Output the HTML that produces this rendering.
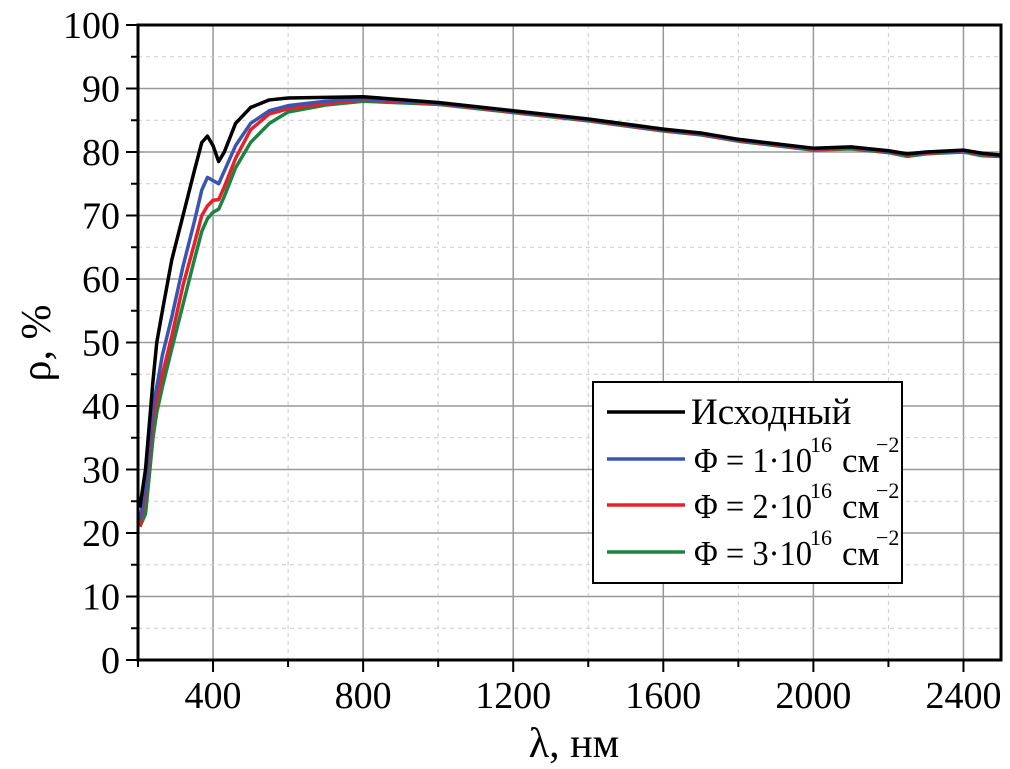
<!DOCTYPE html>
<html><head><meta charset="utf-8"><style>
body{margin:0;background:#fff}
svg text{font-family:"Liberation Serif",serif;fill:#000}
</style></head><body>
<svg id="chart" width="1010" height="764" viewBox="0 0 1010 764">
<g id="grid"></g>
<g id="series"></g>
<rect x="138" y="25" width="863" height="635" fill="none" stroke="#000" stroke-width="3"/>
<g id="ticks"></g>
<text x="574" y="757" font-size="42" text-anchor="middle">λ, нм</text>
<text transform="translate(50,343) rotate(-90)" font-size="42" text-anchor="middle">ρ, %</text>
<g>
<rect x="593" y="382" width="309" height="201" fill="#fff" stroke="#000" stroke-width="2"/>
<line x1="607" x2="685" y1="412" y2="412" stroke="#000" stroke-width="3.5"/>
<text x="691" y="424" font-size="37">Исходный</text>
<g>
<line x1="607" x2="685" y1="459" y2="459" stroke="#3a55b0" stroke-width="3.5"/>
<text x="694" y="472" font-size="35" textLength="118" lengthAdjust="spacingAndGlyphs">Φ = 1·10</text>
<text x="810" y="452" font-size="22">16</text>
<text x="842" y="472" font-size="35">см</text>
<text x="876" y="452" font-size="22">−2</text>
</g>
<g>
<line x1="607" x2="685" y1="505" y2="505" stroke="#e8202a" stroke-width="3.5"/>
<text x="694" y="518" font-size="35" textLength="118" lengthAdjust="spacingAndGlyphs">Φ = 2·10</text>
<text x="810" y="498" font-size="22">16</text>
<text x="842" y="518" font-size="35">см</text>
<text x="876" y="498" font-size="22">−2</text>
</g>
<g>
<line x1="607" x2="685" y1="552" y2="552" stroke="#1a8540" stroke-width="3.5"/>
<text x="694" y="565" font-size="35" textLength="118" lengthAdjust="spacingAndGlyphs">Φ = 3·10</text>
<text x="810" y="545" font-size="22">16</text>
<text x="842" y="565" font-size="35">см</text>
<text x="876" y="545" font-size="22">−2</text>
</g>
</g>
</svg>
<script>
const xTicks=[400,800,1200,1600,2000,2400];
const yTicks=[0,10,20,30,40,50,60,70,80,90,100];
const wl=[205,220,240,250,265,290,320,350,370,385,400,415,430,460,500,550,600,700,800,1000,1200,1400,1600,1700,1800,2000,2100,2200,2250,2300,2400,2450,2500];
const black=[24,30,44,50,55,63,70,77,81.5,82.5,81,78.5,80,84.5,87,88.2,88.5,88.6,88.7,87.8,86.5,85.2,83.6,83.0,82,80.6,80.8,80.2,79.7,80,80.3,79.8,79.5];
const blue=[22,27,40,43,48,54,62,69,74,76,75.5,75,77,81,84.5,86.5,87.3,88,88.4,87.7,86.4,85.1,83.5,82.9,81.9,80.5,80.7,80.1,79.6,79.9,80.2,79.7,79.4];
const red=[21,26,38,41,45,51,59,65.5,70,71.5,72.4,72.5,74.5,79,83.5,86,86.8,87.6,88.2,87.6,86.3,85,83.4,82.8,81.8,80.4,80.6,80,79.5,79.8,80.1,79.6,79.3];
const green=[21,23,35,39,43,49,56,63,67.5,69.5,70.5,71,73,77.5,81.5,84.5,86.3,87.4,88,87.5,86.2,84.9,83.3,82.7,81.7,80.3,80.5,79.9,79.3,79.7,80,79.4,79.3];
const X=v=>138+(v-200)*863/2300, Y=v=>660-v*6.35;
const NS='http://www.w3.org/2000/svg';
const grid=document.getElementById('grid'), ticks=document.getElementById('ticks'), ser=document.getElementById('series');
function mk(p,tag,a){const e=document.createElementNS(NS,tag);for(const k in a)e.setAttribute(k,a[k]);p.appendChild(e);return e;}
for(let v=200;v<=2500;v+=200){const x=X(v);const major=v%400===0;
 const g=mk(grid,'line',{x1:x,x2:x,y1:25,y2:660,stroke:major?'#999':'#ccc','stroke-width':major?1.5:1,'stroke-dasharray':major?'':'4,4'});
 
 
 const t=mk(ticks,'line',{x1:x,x2:x,y1:660,y2:major?672:667,stroke:'#000','stroke-width':2});
 
 }
for(let v=5;v<100;v+=5){const y=Y(v);const major=v%10===0;
 const g=mk(grid,'line',{x1:138,x2:1001,y1:y,y2:y,stroke:major?'#999':'#ccc','stroke-width':major?1.5:1,'stroke-dasharray':major?'':'4,4'});
 
 }
for(let v=0;v<=100;v+=5){const y=Y(v);
 const t=mk(ticks,'line',{x1:v%10===0?126:131,x2:138,y1:y,y2:y,stroke:'#000','stroke-width':2});
 
 }
xTicks.forEach(v=>{const t=mk(ticks,'text',{x:X(v),y:708,'font-size':38,'text-anchor':'middle'});t.textContent=v;
 
 });
yTicks.forEach(v=>{const t=mk(ticks,'text',{x:120,y:Y(v)+13,'font-size':38,'text-anchor':'end'});t.textContent=v;
 
 });
[[green,'#1a8540','series-3e16'],[red,'#e8202a','series-2e16'],[blue,'#3a55b0','series-1e16'],[black,'#000','series-original']].forEach(([d,c,n])=>{
 const p=mk(ser,'polyline',{points:wl.map((w,i)=>X(w)+','+Y(d[i])).join(' '),fill:'none',stroke:c,'stroke-width':3.5,'stroke-linejoin':'round'});
 
 });
</script>
</body></html>
